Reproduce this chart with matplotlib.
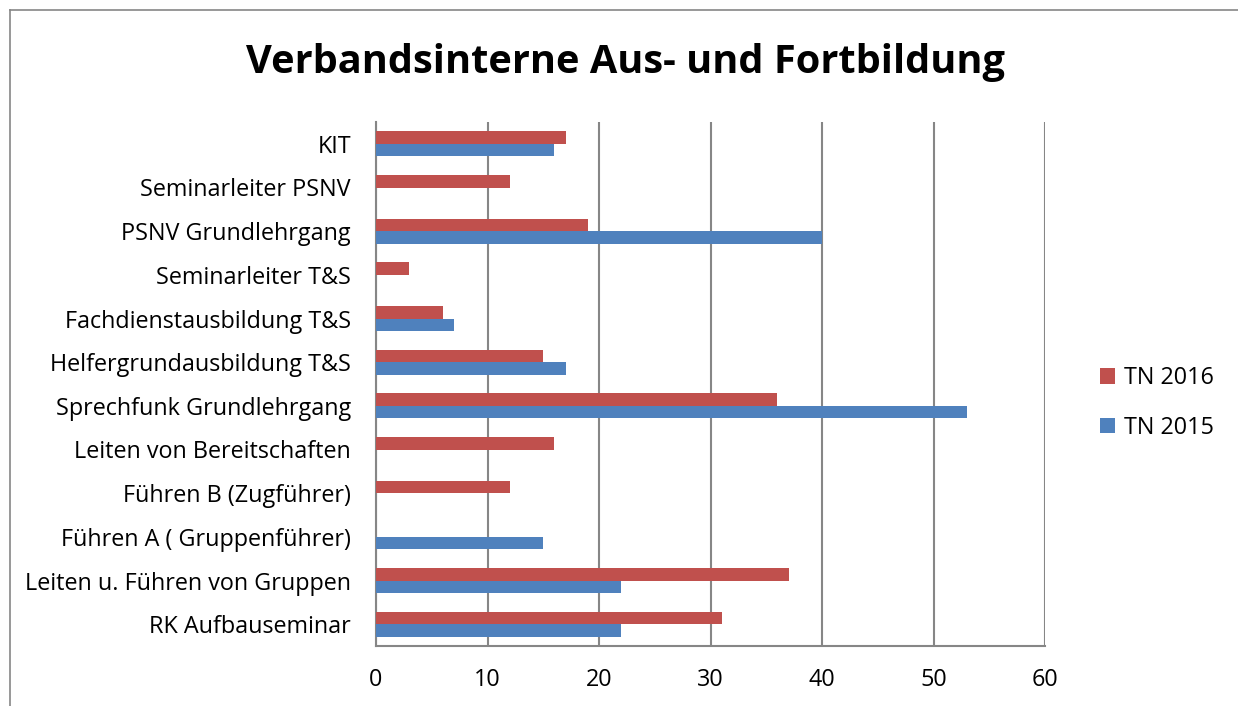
import matplotlib
matplotlib.use("Agg")
import matplotlib.pyplot as plt
from matplotlib.lines import Line2D
import numpy as np

plt.rcParams['font.family'] = ['Open Sans', 'DejaVu Sans']

categories = ["KIT", "Seminarleiter PSNV", "PSNV Grundlehrgang", "Seminarleiter T&S",
              "Fachdienstausbildung T&S", "Helfergrundausbildung T&S",
              "Sprechfunk Grundlehrgang", "Leiten von Bereitschaften",
              "Führen B (Zugführer)", "Führen A ( Gruppenführer)",
              "Leiten u. Führen von Gruppen", "RK Aufbauseminar"]
tn_2016 = [17, 12, 19, 3, 6, 15, 36, 16, 12, 0, 37, 31]
tn_2015 = [16, 0, 40, 0, 7, 17, 53, 0, 0, 15, 22, 22]
x_ticks = [0, 10, 20, 30, 40, 50, 60]

RED = "#c0504d"
BLUE = "#4f81bd"
GRID = "#868686"
FS = 16.8

fig = plt.figure(figsize=(12.38, 7.06), dpi=100)
W, H = 1238, 706
ax = fig.add_axes([376 / W, 1 - 646 / H, (1045 - 376) / W, (646 - 122) / H])

y = np.arange(len(categories))
h = 0.286
ax.barh(y - h / 2, tn_2016, height=h, color=RED, label="TN 2016", zorder=3)
ax.barh(y + h / 2, tn_2015, height=h, color=BLUE, label="TN 2015", zorder=3)

ax.set_ylim(len(categories) - 0.5, -0.5)
ax.set_xlim(0, 60)
ax.set_yticks(y)
ax.set_yticklabels(categories, fontsize=FS)
ax.set_xticks(x_ticks)
ax.set_xticklabels([str(t) for t in x_ticks], fontsize=FS)
ax.tick_params(axis='y', length=0, pad=18)
ax.tick_params(axis='x', length=0, pad=16)

ax.grid(axis='x', color=GRID, linewidth=1.5, zorder=0)
for s in ["top", "right"]:
    ax.spines[s].set_visible(False)
for s in ["left", "bottom"]:
    ax.spines[s].set_color(GRID)
    ax.spines[s].set_linewidth(1.5)

handles, labels = ax.get_legend_handles_labels()
fig.legend(handles, labels, loc="center left", bbox_to_anchor=(1079 / W, 1 - 403 / H),
           frameon=False, fontsize=FS, handlelength=0.65, handleheight=0.65,
           handletextpad=0.4, labelspacing=1.1)

fig.suptitle("Verbandsinterne Aus- und Fortbildung", x=625 / W, y=1 - 62 / H,
             va="center", fontsize=28.6, fontweight="bold")

# outer chart frame (only the top and left edge are visible)
fig.add_artist(Line2D([10 / W, 10 / W], [0, 1 - 10 / H], transform=fig.transFigure,
                      color=GRID, linewidth=1.2))
fig.add_artist(Line2D([10 / W, 1], [1 - 10 / H, 1 - 10 / H], transform=fig.transFigure,
                      color=GRID, linewidth=1.2))

fig.savefig("out.png", dpi=100, facecolor="white")
